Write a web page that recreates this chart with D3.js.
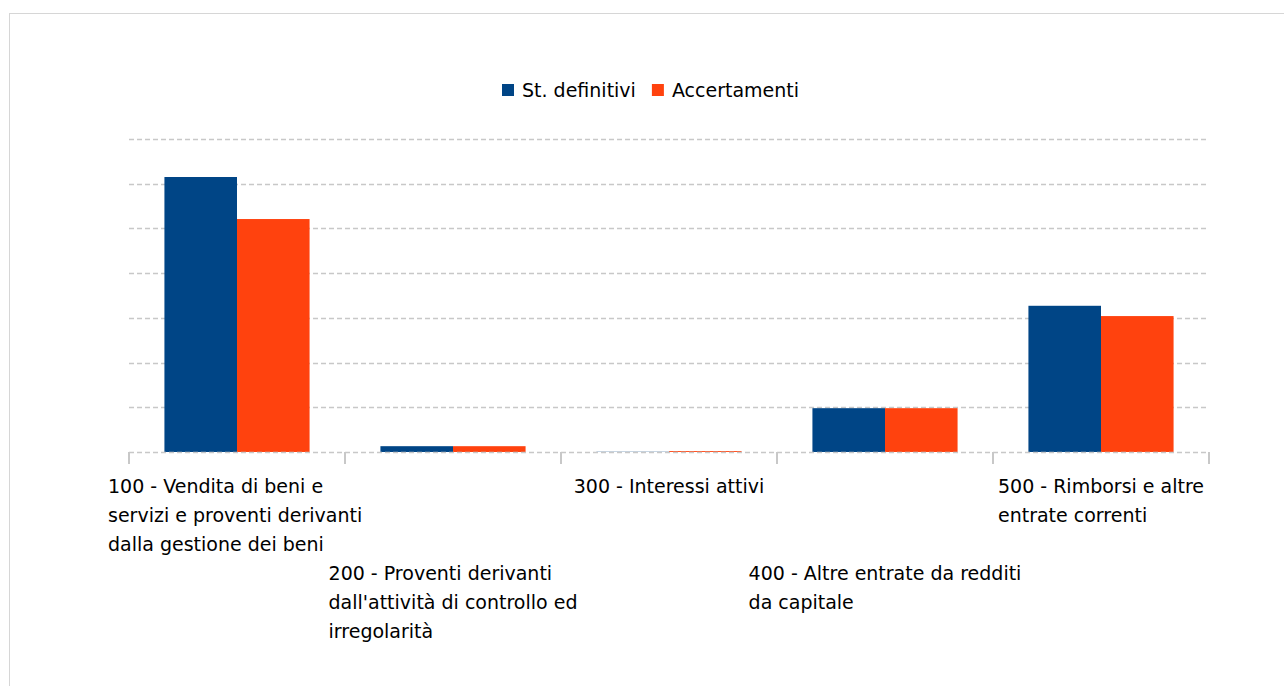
<!DOCTYPE html>
<html>
<head>
<meta charset="utf-8">
<script src="https://cdn.jsdelivr.net/npm/d3@7"></script>
<style>
  html, body { margin: 0; padding: 0; background: #fff; }
  body { width: 1284px; height: 686px; overflow: hidden; position: relative; }
  .frame { position: absolute; left: 9px; top: 13px; width: 1400px; height: 800px;
           border-top: 1px solid #d6d6d6; border-left: 1px solid #d6d6d6; }
  svg { position: absolute; left: 0; top: 0; font-family: "DejaVu Sans", Verdana, sans-serif; }
</style>
</head>
<body>
<div class="frame"></div>
<svg id="chart"></svg>
<script>
/* ---------- data ---------- */
const categories = [
  ["100 - Vendita di beni e", "servizi e proventi derivanti", "dalla gestione dei beni"],
  ["200 - Proventi derivanti", "dall'attività di controllo ed", "irregolarità"],
  ["300 - Interessi attivi"],
  ["400 - Altre entrate da redditi", "da capitale"],
  ["500 - Rimborsi e altre", "entrate correnti"]
];
const seriesNames = ["St. definitivi", "Accertamenti"];
const stDefinitivi = [6.15, 0.13, 0.005, 0.98, 3.27];
const accertamenti = [5.21, 0.13, 0.02, 0.98, 3.04];
const yTicks = [0, 1, 2, 3, 4, 5, 6, 7];

const colors = ["#004586", "#ff420e"];

/* ---------- layout ---------- */
const W = 1284, H = 686;
const plot = { left: 129, right: 1209, top: 139, bottom: 452 };
const FONT = 19;

const svg = d3.select("#chart").attr("width", W).attr("height", H);

const x0 = d3.scaleBand()
  .domain(d3.range(categories.length))
  .range([plot.left, plot.right])
  .paddingInner(0.328)
  .paddingOuter(0.164);

const x1 = d3.scaleBand()
  .domain(d3.range(seriesNames.length))
  .range([0, x0.bandwidth()]);

const y = d3.scaleLinear().domain([0, 7]).range([plot.bottom, plot.top]);

/* grid */
svg.append("g")
  .selectAll("line")
  .data(yTicks.slice(1))
  .join("line")
  .attr("x1", plot.left).attr("x2", plot.right)
  .attr("y1", d => Math.round(y(d)) + 0.5).attr("y2", d => Math.round(y(d)) + 0.5)
  .attr("stroke", "#c8c8c8")
  .attr("stroke-width", 1.5)
  .attr("stroke-dasharray", "5,3");

/* bars */
const rows = categories.map((c, i) => [stDefinitivi[i], accertamenti[i]]);
svg.append("g")
  .selectAll("g")
  .data(rows)
  .join("g")
  .attr("transform", (d, i) => `translate(${x0(i)},0)`)
  .selectAll("rect")
  .data(d => d)
  .join("rect")
  .attr("x", (d, j) => x1(j))
  .attr("width", x1.bandwidth())
  .attr("y", d => y(d))
  .attr("height", d => Math.max(0, y(0) - y(d)))
  .attr("fill", (d, j) => colors[j]);

/* x axis baseline + ticks */
svg.append("line")
  .attr("x1", plot.left).attr("x2", plot.right)
  .attr("y1", plot.bottom + 0.5).attr("y2", plot.bottom + 0.5)
  .attr("stroke", "#c8c8c8").attr("stroke-width", 1.5)
  .attr("stroke-dasharray", "5,3");

const step = (plot.right - plot.left) / categories.length;
svg.append("g")
  .selectAll("line")
  .data(d3.range(categories.length + 1))
  .join("line")
  .attr("x1", d => plot.left + d * step).attr("x2", d => plot.left + d * step)
  .attr("y1", plot.bottom).attr("y2", plot.bottom + 12)
  .attr("stroke", "#c8c8c8").attr("stroke-width", 2);

/* category labels, staggered */
const labelG = svg.append("g");
categories.forEach((lines, i) => {
  const cx = plot.left + (i + 0.5) * step;
  const top = i % 2 === 0 ? 486 : 573;
  const t = labelG.append("text")
    .attr("font-size", FONT)
    .attr("fill", "#000");
  lines.forEach((ln, k) => {
    t.append("tspan").attr("x", 0).attr("y", top + k * 29).attr("dy", "0.35em").text(ln);
  });
  const w = d3.max(t.selectAll("tspan").nodes(), n => n.getComputedTextLength());
  const left = i === 0 ? 108 : cx - w / 2;
  t.selectAll("tspan").attr("x", left);
});

/* legend, centred on the whole chart frame */
const legend = svg.append("g").attr("font-size", FONT);
let lx = 0;
const items = legend.selectAll("g").data(seriesNames).join("g");
items.append("rect").attr("width", 12).attr("height", 12).attr("y", -6)
  .attr("fill", (d, i) => colors[i]);
items.append("text").attr("x", 20).attr("dy", "0.35em").text(d => d);
items.each(function () {
  const g = d3.select(this);
  g.attr("transform", `translate(${lx},0)`);
  lx += 20 + g.select("text").node().getComputedTextLength() + 16;
});
const legendW = lx - 16;
legend.attr("transform", `translate(${Math.round(651 - legendW / 2)},90)`);
</script>
</body>
</html>
